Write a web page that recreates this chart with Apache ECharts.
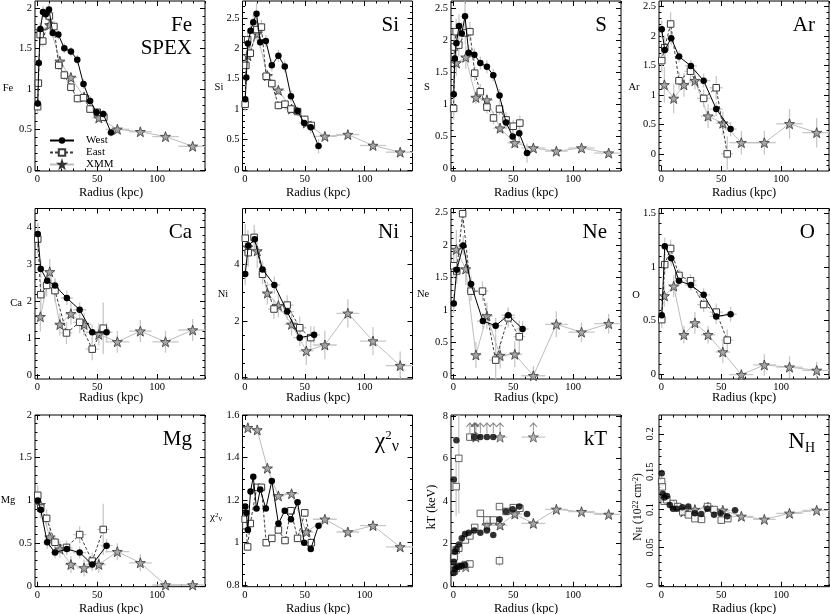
<!DOCTYPE html>
<html>
<head>
<meta charset="utf-8">
<script src="https://cdn.jsdelivr.net/npm/echarts@6.0.0/dist/echarts.min.js"></script>
<style>
html,body{margin:0;padding:0;background:#fff;}
#chart{width:830px;height:614px;}
</style>
</head>
<body>
<div id="chart"></div>
<script>
// ================= DATA =================
// radial bins (kpc)
const westFineR   = [0.3, 1.2, 2.5, 4.7, 7, 9.7, 12.8, 17.5, 22.5, 28, 33.3, 38.5, 44, 49.5, 55, 61.5];
const westFineRerr= [0.3, 0.5, 0.8, 1.1, 1.2, 1.4, 1.6, 2.4, 2.4, 2.8, 2.6, 2.6, 2.8, 2.8, 2.8, 3.2];
const eastFineR   = [0.2, 0.8, 2.3, 4.5, 10, 13.8, 17.8, 22.5, 28, 33.5, 38.5, 44, 50, 55.5];
const eastFineRerr= [0.2, 0.5, 0.8, 1.2, 1.5, 1.8, 2.2, 2.4, 2.8, 2.6, 2.6, 2.8, 2.8, 2.8];
const westCoarseR = [0.3, 2.8, 8.2, 14.7, 24.6, 35.3, 45.8, 57.8];
const eastCoarseR = [0.3, 2.8, 7.7, 14.7, 24.3, 35.3, 45.8, 55];
const coarseRerr  = [0.8, 2, 3, 3.5, 5, 5.5, 5.5, 5];
const xmmR        = [2.5, 10.3, 18.8, 28, 39, 51.3, 66.8, 86, 107, 129.7];
const xmmRerr     = [2.5, 4, 4.5, 5, 6, 6, 10, 9.5, 11, 12];

// Fe
const feWest = [0.82,1.32,1.74,1.95,1.92,1.98,1.69,1.67,1.50,1.46,1.36,1.06,0.85,0.71,0.69,0.46];
const feWestErr = [0.06,0.08,0.08,0.07,0.07,0.07,0.06,0.06,0.06,0.06,0.06,0.06,0.05,0.05,0.05,0.05];
const feEast = [0.78,1.07,1.67,1.59,1.90,1.77,1.29,1.17,1.02,0.88,0.89,0.75,0.71,0.65];
const feEastErr = [0.08,0.10,0.08,0.07,0.08,0.07,0.06,0.06,0.05,0.05,0.05,0.05,0.05,0.05];
const feXmm  = [1.72,1.79,1.34,1.14,0.90,0.64,0.50,0.47,0.41,0.29];
const feXmmErr = [0.10,0.07,0.06,0.06,0.05,0.05,0.04,0.04,0.04,0.03];
// Si
const siWest = [1.16,1.52,2.08,2.29,2.43,2.57,2.10,2.12,1.72,1.88,1.70,1.21,0.97,0.77,0.70,0.39];
const siWestErr = [0.10,0.12,0.12,0.12,0.12,0.18,0.10,0.10,0.10,0.10,0.10,0.10,0.08,0.08,0.10,0.12];
const siEast = [1.08,1.72,2.14,1.92,2.31,2.35,1.54,1.42,1.06,1.08,1.00,0.96,0.83,0.73];
const siEastErr = [0.12,0.15,0.15,0.12,0.15,0.12,0.08,0.08,0.07,0.07,0.07,0.06,0.07,0.08];
const siXmm  = [1.88,2.24,1.55,1.31,1.00,0.77,0.55,0.58,0.40,0.29];
const siXmmErr = [0.15,0.12,0.08,0.08,0.07,0.06,0.06,0.06,0.06,0.05];
// S
const sWest = [1.16,1.72,1.96,2.23,2.11,2.38,1.81,1.78,1.65,1.59,1.46,1.14,0.72,0.50,0.55,0.24];
const sWestErr = [0.15,0.18,0.18,0.18,0.18,0.25,0.12,0.10,0.10,0.10,0.10,0.10,0.10,0.10,0.15,0.15];
const sEast = [0.94,1.90,2.14,1.93,2.12,2.14,1.49,1.20,0.96,0.79,0.93,0.76,0.66,0.71];
const sEastErr = [0.18,0.20,0.20,0.18,0.18,0.15,0.12,0.12,0.10,0.10,0.10,0.12,0.10,0.12];
const sXmm  = [1.65,1.74,1.11,1.07,0.63,0.40,0.32,0.27,0.32,0.24];
const sXmmErr = [0.20,0.18,0.10,0.10,0.08,0.08,0.06,0.06,0.07,0.06];
// Ar
const arWest = [2.11,1.76,1.96,1.65,1.49,1.24,0.76,0.42];
const arWestErr = [0.15,0.15,0.12,0.10,0.10,0.12,0.12,0.12];
const arEast = [1.58,1.80,2.20,1.24,1.40,0.94,1.12,0.00];
const arEastErr = [0.20,0.20,0.20,0.15,0.15,0.15,0.20,0.30];
const arXmm  = [1.17,0.94,1.17,1.24,0.64,0.52,0.19,0.19,0.51,0.36];
const arXmmErr = [0.30,0.25,0.20,0.15,0.20,0.20,0.20,0.20,0.25,0.25];
// Ca
const caWest = [3.83,2.88,2.56,2.43,2.09,1.77,1.16,1.16];
const caWestErr = [0.30,0.25,0.20,0.20,0.20,0.20,0.20,0.25];
const caEast = [3.69,2.18,2.43,2.29,1.14,1.43,0.70,1.27];
const caEastErr = [0.40,0.35,0.30,0.30,0.30,0.30,0.30,0.70];
const caXmm  = [1.58,2.80,1.37,1.66,1.37,1.10,0.90,1.19,0.90,1.22];
const caXmmErr = [0.40,0.35,0.30,0.30,0.30,0.30,0.30,0.30,0.30,0.30];
// Ni
const niWest = [3.66,4.66,4.88,3.82,3.27,2.33,1.41,1.51];
const niWestErr = [0.40,0.40,0.35,0.30,0.30,0.30,0.30,0.30];
const niEast = [4.92,4.41,4.95,3.65,2.42,2.56,1.76,1.41];
const niEastErr = [0.50,0.50,0.45,0.35,0.35,0.35,0.40,0.40];
const niXmm  = [4.60,4.47,2.98,2.54,1.88,0.94,1.15,2.27,1.29,0.42];
const niXmmErr = [0.60,0.60,0.40,0.40,0.40,0.50,0.50,0.50,0.50,0.50];
// Ne
const neWest = [1.10,1.62,1.99,1.40,0.83,0.76,0.92,0.71];
const neWestErr = [0.15,0.15,0.15,0.12,0.12,0.12,0.12,0.12];
const neEast = [1.68,1.60,2.48,1.29,1.29,0.23,0.88,0.59];
const neEastErr = [0.20,0.20,0.20,0.15,0.15,0.40,0.15,0.25];
const neXmm  = [1.93,1.63,0.31,0.91,0.30,0.32,-0.01,0.78,0.66,0.79];
const neXmmErr = [0.30,0.25,0.20,0.20,0.20,0.20,0.15,0.20,0.15,0.15];
// O
const oWest = [0.55,1.19,1.08,0.87,0.83,0.74,0.54,0.56];
const oWestErr = [0.06,0.08,0.07,0.05,0.05,0.06,0.07,0.07];
const oEast = [0.51,1.02,1.17,0.92,0.87,0.65,0.58,0.32];
const oEastErr = [0.08,0.10,0.08,0.06,0.06,0.07,0.08,0.10];
const oXmm  = [0.73,0.82,0.37,0.48,0.37,0.21,0.00,0.09,0.07,0.04];
const oXmmErr = [0.10,0.10,0.08,0.10,0.08,0.10,0.05,0.10,0.10,0.08];
// Mg
const mgWest = [1.00,0.89,0.51,0.39,0.43,0.39,0.25,0.47];
const mgWestErr = [0.10,0.10,0.08,0.07,0.07,0.07,0.08,0.08];
const mgEast = [1.06,0.91,0.79,0.51,0.45,0.60,0.29,0.66];
const mgEastErr = [0.12,0.12,0.10,0.08,0.08,0.10,0.10,0.30];
const mgXmm  = [0.95,0.57,0.43,0.25,0.21,0.25,0.40,0.27,0.01,0.01];
const mgXmmErr = [0.15,0.12,0.10,0.10,0.10,0.10,0.10,0.10,0.05,0.05];
// reduced chi^2
const chiWest = [1.17,1.14,1.06,1.24,1.31,1.16,1.25,1.16,1.29,1.09,1.15,1.11,1.19,1.00,0.97,1.08];
const chiEast = [1.11,1.08,0.98,1.09,1.26,1.26,1.00,1.02,1.06,1.01,1.15,1.02,1.14,1.00];
const chiXmm  = [1.54,1.53,1.35,1.22,1.23,1.05,1.11,1.05,1.08,0.98];
// kT (keV): three temperature components
const ktWestMid   = [1.14,1.61,1.72,1.95,2.24,2.44,2.50,2.60,2.50,2.60,2.39,3.13,3.50,3.60,3.73,3.38];
const ktWestMidErr= [0.10,0.08,0.08,0.08,0.08,0.08,0.08,0.08,0.08,0.10,0.10,0.12,0.12,0.12,0.12,0.12];
const ktWestHotR  = [0.3, 2.5, 17.5, 22.5, 28, 33.3];
const ktWestHot   = [5.0, 6.85, 7, 7, 7, 7];
const ktWestColdR = [0.3, 1.2, 2.5, 4.7, 7, 9.7];
const ktWestCold  = [0.6, 0.78, 0.88, 0.92, 0.95, 0.98];
const ktEastMid   = [1.30,1.37,1.69,1.77,2.16,2.35,2.75,3.41,3.10,3.10,3.73,3.50,3.68,3.65];
const ktEastMidErr= [0.10,0.10,0.10,0.10,0.10,0.10,0.12,0.15,0.12,0.12,0.15,0.15,0.15,0.15];
const ktEastHotR  = [2.3, 4.5, 13.8, 17.8];
const ktEastHot   = [4.67, 6.0, 7, 7];
const ktEastHotErr= [1.4, 2.6, 0, 0];
const ktEastColdR = [0.8, 2.3, 4.5, 10, 13.8, 38.5];
const ktEastCold  = [0.7, 0.82, 0.92, 1.0, 1.03, 1.18];
const ktEastColdErr=[0.05, 0.05, 0.05, 0.06, 0.06, 0.25];
const ktXmmMidR   = [28, 39, 51.3, 66.8, 86, 107, 129.7];
const ktXmmMidRerr= [5, 6, 6, 10, 9.5, 11, 12];
const ktXmmMid    = [2.86, 2.86, 3.38, 2.94, 3.60, 3.49, 3.36];
const ktXmmMidErr = [0.2, 0.2, 0.2, 0.2, 0.15, 0.15, 0.15];
const ktXmmHotR   = [18.8, 39, 66.8];
const ktXmmHotRerr= [4.5, 6, 10];
const ktXmmHot    = [7, 7, 7];
const ktXmmColdR  = [10.3];
const ktXmmCold   = [0.9];
const ktLimitR    = [13.8, 17.5, 17.8, 18.8, 22.5, 28, 33.3, 39, 66.8];
const ktLimit     = [7, 7, 7, 7, 7, 7, 7, 7, 7];
// N_H (10^22 cm^-2)
const nhWest = [0.148,0.121,0.116,0.118,0.106,0.101,0.101,0.103,0.104,0.095,0.094,0.101,0.093,0.095,0.091,0.099];
const nhWestErr = [0.005,0.004,0.004,0.004,0.004,0.003,0.003,0.003,0.003,0.003,0.003,0.003,0.003,0.003,0.004,0.004];
const nhEast = [0.137,0.130,0.111,0.113,0.108,0.104,0.097,0.093,0.088,0.087,0.104,0.100,0.086,0.088];
const nhEastErr = [0.006,0.005,0.004,0.004,0.004,0.003,0.003,0.003,0.003,0.003,0.004,0.004,0.004,0.004];
const nhXmm  = [0.115,0.106,0.097,0.100,0.103,0.099,0.091,0.087,0.095,0.099];
const nhXmmErr = [0.006,0.005,0.004,0.004,0.004,0.004,0.004,0.004,0.004,0.004];

// axis ticks
const xMajor = [0, 50, 100];

// ================= LAYOUT / STYLE =================
const FONT = 'Liberation Serif';
const colL = [35, 242.5, 451, 659];
const rowT = [1, 208.5, 415];
const rowH = [170, 170.5, 171.7];
const GW = 170;
const XMIN = -2, XMAX = 140;
const starPath = 'path://M50,2 L61.8,36.2 L97.6,36.6 L69,58.4 L79.4,93 L50,72.4 L20.6,93 L31,58.4 L2.4,36.6 L38.2,36.2 Z';
const arrowPath = 'path://M5,14 L5,0 M0.5,5 L5,0 L9.5,5';

function zip(xs, ys) { return xs.map((x, k) => [x, ys[k]]); }
function zipErr(xs, ys, xe, ye) { return xs.map((x, k) => [x, ys[k], xe ? xe[k] : 0, ye ? ye[k] : 0]); }
function steps(min, max, step) {
  const out = []; let v = Math.ceil(min / step - 1e-9) * step;
  for (; v <= max + 1e-9; v += step) out.push(+v.toFixed(6));
  return out;
}

const panels = [
  {min:-0.015, max:2.085, major:[0,0.5,1,1.5,2], minor:0.1, W:[westFineR, feWest, westFineRerr, feWestErr], E:[eastFineR, feEast, eastFineRerr, feEastErr], X:[feXmm, feXmmErr]},
  {min:-0.02, max:2.78, major:[0,0.5,1,1.5,2,2.5], minor:0.1, W:[westFineR, siWest, westFineRerr, siWestErr], E:[eastFineR, siEast, eastFineRerr, siEastErr], X:[siXmm, siXmmErr]},
  {min:-0.04, max:2.62, major:[0,0.5,1,1.5,2,2.5], minor:0.1, W:[westFineR, sWest, westFineRerr, sWestErr], E:[eastFineR, sEast, eastFineRerr, sEastErr], X:[sXmm, sXmmErr]},
  {min:-0.29, max:2.59, major:[0,0.5,1,1.5,2,2.5], minor:0.1, W:[westCoarseR, arWest, coarseRerr, arWestErr], E:[eastCoarseR, arEast, coarseRerr, arEastErr], X:[arXmm, arXmmErr]},
  {min:-0.11, max:4.52, major:[0,1,2,3,4], minor:0.2, W:[westCoarseR, caWest, coarseRerr, caWestErr], E:[eastCoarseR, caEast, coarseRerr, caEastErr], X:[caXmm, caXmmErr]},
  {min:-0.05, max:5.97, major:[0,2,4,6], minor:0.5, W:[westCoarseR, niWest, coarseRerr, niWestErr], E:[eastCoarseR, niEast, coarseRerr, niEastErr], X:[niXmm, niXmmErr]},
  {min:-0.06, max:2.56, major:[0,0.5,1,1.5,2,2.5], minor:0.1, W:[westCoarseR, neWest, coarseRerr, neWestErr], E:[eastCoarseR, neEast, coarseRerr, neEastErr], X:[neXmm, neXmmErr]},
  {min:-0.04, max:1.54, major:[0,0.5,1,1.5], minor:0.1, W:[westCoarseR, oWest, coarseRerr, oWestErr], E:[eastCoarseR, oEast, coarseRerr, oEastErr], X:[oXmm, oXmmErr]},
  {min:-0.01, max:2.0, major:[0,0.5,1,1.5,2], minor:0.1, W:[westCoarseR, mgWest, coarseRerr, mgWestErr], E:[eastCoarseR, mgEast, coarseRerr, mgEastErr], X:[mgXmm, mgXmmErr]},
  {min:0.793, max:1.6, major:[0.8,1,1.2,1.4,1.6], minor:0.05, W:[westFineR, chiWest, westFineRerr, null], E:[eastFineR, chiEast, eastFineRerr, null], X:[chiXmm, null]},
  {min:-0.04, max:8.04, major:[0,2,4,6,8], minor:0.5, special:'kT'},
  {min:-0.002, max:0.225, major:[0,0.05,0.1,0.15,0.2], minor:0.01, W:[westFineR, nhWest, westFineRerr, nhWestErr], E:[eastFineR, nhEast, eastFineRerr, nhEastErr], X:[nhXmm, nhXmmErr], noLines:true, rotLabels:true}
];

const grids = [], xAxes = [], yAxes = [], series = [];
const tickLine = {color:'#000', width:1};

panels.forEach((p, i) => {
  const c = i % 4, r = Math.floor(i / 4);
  grids.push({left: colL[c], top: rowT[r], width: GW, height: rowH[r], show: true,
    borderColor: '#000', borderWidth: 1, backgroundColor: 'transparent'});
  const base = {gridIndex: i, type: 'value', axisLine: {show: false, onZero: false}, splitLine: {show: false}};
  const xMinor = steps(XMIN, XMAX, 10);
  const yMinor = steps(p.min, p.max, p.minor);
  const mk = (isX, pos, major, label) => Object.assign({}, base, {
    min: isX ? XMIN : p.min, max: isX ? XMAX : p.max, position: pos,
    axisTick: {inside: true, length: major ? 5 : 2.5, customValues: major ? (isX ? xMajor : p.major) : (isX ? xMinor : yMinor), lineStyle: tickLine},
    axisLabel: label ? {customValues: isX ? xMajor : p.major, fontSize: 10.5, fontFamily: FONT, color: '#000',
      margin: 3, rotate: (!isX && p.rotLabels) ? 90 : 0} : {show: false}
  });
  xAxes.push(mk(true, 'bottom', true, true), mk(true, 'bottom', false, false), mk(true, 'top', true, false), mk(true, 'top', false, false));
  yAxes.push(mk(false, 'left', true, true), mk(false, 'left', false, false), mk(false, 'right', true, false), mk(false, 'right', false, false));
});

function errSeries(i, data) {
  return {type: 'custom', xAxisIndex: 4 * i, yAxisIndex: 4 * i, silent: true, z: 1, clip: true,
    data: data, encode: {x: 0, y: 1},
    renderItem: function (params, api) {
      const x = api.value(0), y = api.value(1), dx = api.value(2), dy = api.value(3);
      const l = api.coord([x - dx, y]), rr = api.coord([x + dx, y]);
      const t = api.coord([x, y + dy]), b = api.coord([x, y - dy]);
      const st = {stroke: '#c8c8c8', lineWidth: 1.3};
      const ch = [];
      if (dx > 0) ch.push({type: 'line', shape: {x1: l[0], y1: l[1], x2: rr[0], y2: rr[1]}, style: st});
      if (dy > 0) ch.push({type: 'line', shape: {x1: t[0], y1: t[1], x2: b[0], y2: b[1]}, style: st});
      return {type: 'group', children: ch};
    }};
}
function westS(i, data, line) {
  return {name: 'West', type: line ? 'line' : 'scatter', xAxisIndex: 4 * i, yAxisIndex: 4 * i, data: data,
    symbol: 'circle', symbolSize: 6.5, itemStyle: {color: '#000'},
    lineStyle: {color: '#000', width: 1}, z: 5, silent: true};
}
function eastS(i, data, line) {
  return {name: 'East', type: line ? 'line' : 'scatter', xAxisIndex: 4 * i, yAxisIndex: 4 * i, data: data,
    symbol: 'rect', symbolSize: 6.5, itemStyle: {color: '#fff', borderColor: '#3a3a3a', borderWidth: 1},
    lineStyle: {color: '#3a3a3a', width: 1, type: [3, 2]}, z: 4, silent: true};
}
function xmmS(i, data, line) {
  return {name: 'XMM', type: line ? 'line' : 'scatter', xAxisIndex: 4 * i, yAxisIndex: 4 * i, data: data,
    symbol: starPath, symbolSize: 10, itemStyle: {color: '#a6a6a6', borderColor: '#333', borderWidth: 0.8},
    lineStyle: {color: '#bdbdbd', width: 1}, z: 3, silent: true};
}

panels.forEach((p, i) => {
  if (p.special === 'kT') {
    series.push(errSeries(i, zipErr(westFineR, ktWestMid, westFineRerr, ktWestMidErr)));
    series.push(errSeries(i, zipErr(eastFineR, ktEastMid, eastFineRerr, ktEastMidErr)));
    series.push(errSeries(i, zipErr(ktEastHotR, ktEastHot, null, ktEastHotErr)));
    series.push(errSeries(i, zipErr(ktEastColdR, ktEastCold, null, ktEastColdErr)));
    series.push(errSeries(i, zipErr(ktXmmMidR, ktXmmMid, ktXmmMidRerr, ktXmmMidErr)));
    series.push(errSeries(i, zipErr(ktXmmHotR, ktXmmHot, ktXmmHotRerr, null)));
    series.push(xmmS(i, zip(ktXmmMidR, ktXmmMid), true));
    series.push(xmmS(i, zip(ktXmmHotR, ktXmmHot), false));
    series.push(xmmS(i, zip(ktXmmColdR, ktXmmCold), false));
    series.push(eastS(i, zip(eastFineR, ktEastMid), false));
    series.push(eastS(i, zip(ktEastHotR, ktEastHot), false));
    series.push(eastS(i, zip(ktEastColdR, ktEastCold), false));
    series.push(westS(i, zip(westFineR, ktWestMid), false));
    series.push(westS(i, zip(ktWestHotR, ktWestHot), false));
    series.push(westS(i, zip(ktWestColdR, ktWestCold), false));
    series.push({name: 'limit', type: 'scatter', xAxisIndex: 4 * i, yAxisIndex: 4 * i, data: zip(ktLimitR, ktLimit),
      symbol: arrowPath, symbolSize: [7, 10], symbolOffset: [0, -9], silent: true, z: 2,
      itemStyle: {color: 'transparent', borderColor: '#666', borderWidth: 1}});
    return;
  }
  const line = !p.noLines;
  series.push(errSeries(i, zipErr(p.W[0], p.W[1], p.W[2], p.W[3])));
  series.push(errSeries(i, zipErr(p.E[0], p.E[1], p.E[2], p.E[3])));
  series.push(errSeries(i, zipErr(xmmR, p.X[0], xmmRerr, p.X[1])));
  series.push(xmmS(i, zip(xmmR, p.X[0]), true));
  series.push(eastS(i, zip(p.E[0], p.E[1]), line));
  series.push(westS(i, zip(p.W[0], p.W[1]), line));
});

// panel titles
const TS = {fontFamily: FONT, fontSize: 21, fontWeight: 'normal', color: '#000'};
const titleRight = [197, 404, 612, 820];
const titleTop = [10, 217, 424];
const titleTexts = ['Fe', 'Si', 'S', 'Ar', 'Ca', 'Ni', 'Ne', 'O', 'Mg', '{a|χ}{b|2}{c|ν}', 'kT', '{a|N}{h|H}'];
const titles = titleTexts.map((t, i) => ({
  text: t, right: 830 - titleRight[i % 4], top: titleTop[Math.floor(i / 4)],
  textStyle: Object.assign({}, TS, {rich: {
    a: {fontFamily: FONT, fontSize: 23, color: '#000', lineHeight: 26},
    b: {fontFamily: FONT, fontSize: 13, color: '#000', verticalAlign: 'top', lineHeight: 14},
    c: {fontFamily: FONT, fontSize: 16, color: '#000', verticalAlign: 'bottom', lineHeight: 16},
    h: {fontFamily: FONT, fontSize: 14, color: '#000', verticalAlign: 'bottom', lineHeight: 14}
  }})
}));
titles.push({text: 'SPEX', right: 830 - 197, top: 33, textStyle: TS});

// axis names (graphic text)
const gtext = (text, x, y, size, rot, rich) => ({type: 'text', x: x, y: y, rotation: rot || 0, silent: true,
  style: {text: text, fontFamily: FONT, fontSize: size, fill: '#000', textAlign: 'center', textVerticalAlign: 'middle', rich: rich}});
const graphics = [];
const yNames = [['Fe', 8, 88], ['Si', 219, 87], ['S', 427, 87], ['Ar', 634, 87],
                ['Ca', 16, 303], ['Ni', 223, 294], ['Ne', 423, 294], ['O', 636, 295],
                ['Mg', 8, 500]];
yNames.forEach(n => graphics.push(gtext(n[0], n[1], n[2], 10.5)));
graphics.push(gtext('{a|χ}{b|2}{c|ν}', 216, 517, 10.5, 0, {
  a: {fontFamily: FONT, fontSize: 11, fill: '#000'},
  b: {fontFamily: FONT, fontSize: 7, fill: '#000', verticalAlign: 'top'},
  c: {fontFamily: FONT, fontSize: 8, fill: '#000', verticalAlign: 'bottom'}}));
graphics.push(gtext('kT (keV)', 432, 507, 12, Math.PI / 2));
graphics.push(gtext('{a|N}{s|H}{a| (10}{p|22}{a| cm}{p|-2}{a|)}', 638, 507, 11.5, Math.PI / 2, {
  a: {fontFamily: FONT, fontSize: 11.5, fill: '#000'},
  s: {fontFamily: FONT, fontSize: 8, fill: '#000', verticalAlign: 'bottom'},
  p: {fontFamily: FONT, fontSize: 8, fill: '#000', verticalAlign: 'top'}}));
const xNameX = [111, 318, 526, 744];
const xNameY = [192.5, 398, 609];
for (let r = 0; r < 3; r++) for (let c = 0; c < 4; c++) graphics.push(gtext('Radius (kpc)', xNameX[c], xNameY[r], 12.5));

const option = {
  backgroundColor: '#fff',
  animation: false,
  title: titles,
  legend: {data: ['West', 'East', 'XMM'], orient: 'vertical', left: 44, top: 130, itemWidth: 24, itemHeight: 8, itemGap: 1,
    textStyle: {fontFamily: FONT, fontSize: 11, color: '#000', lineHeight: 11, padding: [0, 0, 0, 7]}, selectedMode: false},
  grid: grids,
  xAxis: xAxes,
  yAxis: yAxes,
  series: series,
  graphic: graphics
};

const chart = echarts.init(document.getElementById('chart'), null, {renderer: 'canvas'});
chart.setOption(option);
</script>
</body>
</html>
